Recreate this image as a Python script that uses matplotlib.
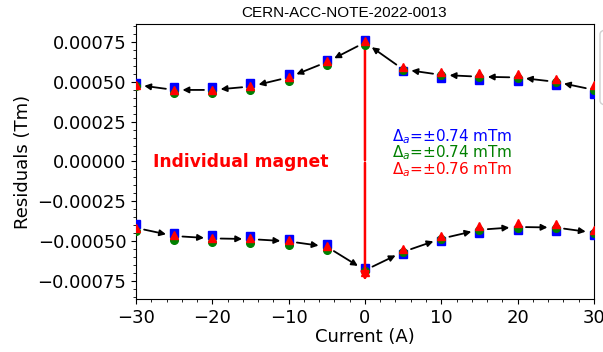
import matplotlib
matplotlib.use("Agg")
import matplotlib.pyplot as plt
from matplotlib.patches import FancyBboxPatch
from matplotlib.ticker import AutoMinorLocator, FuncFormatter
import numpy as np

# токи (A)
current = [-30, -25, -20, -15, -10, -5, 0, 5, 10, 15, 20, 25, 30]

# верхняя ветвь (рампа вниз), Tm
up_blue = [0.000490, 0.000463, 0.000467, 0.000488, 0.000546, 0.000637, 0.000757,
           0.000565, 0.000525, 0.000508, 0.000502, 0.000477, 0.000421]
up_green = [0.000470, 0.000430, 0.000426, 0.000446, 0.000504, 0.000602, 0.000726,
            0.000572, 0.000540, 0.000529, 0.000525, 0.000498, 0.000446]
up_red = [0.000480, 0.000450, 0.000450, 0.000473, 0.000529, 0.000627, 0.000751,
          0.000591, 0.000560, 0.000554, 0.000550, 0.000519, 0.000477]

# нижняя ветвь (рампа вверх), Tm
lo_blue = [-0.000394, -0.000446, -0.000462, -0.000467, -0.000483, -0.000514, -0.000664,
           -0.000580, -0.000498, -0.000446, -0.000431, -0.000436, -0.000462]
lo_green = [-0.000436, -0.000490, -0.000504, -0.000508, -0.000523, -0.000556, -0.000684,
            -0.000566, -0.000483, -0.000431, -0.000415, -0.000415, -0.000446]
lo_red = [-0.000415, -0.000462, -0.000477, -0.000481, -0.000493, -0.000529, -0.000693,
          -0.000549, -0.000467, -0.000404, -0.000383, -0.000388, -0.000429]

labels = ["$\\Delta_a$=±0.74 mTm", "$\\Delta_a$=±0.74 mTm", "$\\Delta_a$=±0.76 mTm"]

fig = plt.figure(figsize=(6.03, 3.52), dpi=100)
ax = fig.add_axes([0.2255, 0.1506, 0.7595, 0.7812])

x = np.array(current)
styles = [("blue", "s", up_blue, lo_blue),
          ("green", "o", up_green, lo_green),
          ("red", "^", up_red, lo_red)]
for col, mk, up, lo in styles:
    ax.plot(x, up, ls="", marker=mk, color=col, ms=5.5, zorder=4)
    ax.plot(x, lo, ls="", marker=mk, color=col, ms=5.5, zorder=4)

# средние значения - для стрелок
up_mean = (np.array(up_blue) + np.array(up_green) + np.array(up_red)) / 3
lo_mean = (np.array(lo_blue) + np.array(lo_green) + np.array(lo_red)) / 3

arr = dict(arrowstyle="-|>", color="k", lw=1.3, mutation_scale=9, shrinkA=6, shrinkB=6)
# верхняя ветвь: от +30 к -30
for i in range(len(x) - 1, 0, -1):
    ax.annotate("", xy=(x[i - 1], up_mean[i - 1]), xytext=(x[i], up_mean[i]),
                arrowprops=arr, zorder=3)
# нижняя ветвь: от -30 к +30
for i in range(len(x) - 1):
    ax.annotate("", xy=(x[i + 1], lo_mean[i + 1]), xytext=(x[i], lo_mean[i]),
                arrowprops=arr, zorder=3)

# красная стрелка в нуле
top0 = up_mean[6] - 0.00002
ax.annotate("", xy=(0, 0.000008), xytext=(0, top0),
            arrowprops=dict(arrowstyle="-", color="red", lw=1.8, shrinkA=0, shrinkB=0), zorder=2)
ax.annotate("", xy=(0, -0.000745), xytext=(0, -0.000008),
            arrowprops=dict(arrowstyle="-|>", color="red", lw=1.8, mutation_scale=12,
                            shrinkA=0, shrinkB=0), zorder=5)

ax.text(-27.8, -0.000005, "Individual magnet", color="red", fontsize=12.3,
        fontweight="bold", va="center", ha="left")
for (col, _, _, _), lab, yy in zip(styles, labels, [0.000156, 0.000054, -0.000048]):
    ax.text(3.6, yy, lab, color=col, fontsize=11, va="center", ha="left")

ax.set_xlim(-30, 30)
ax.set_ylim(-0.00086, 0.00086)
ax.set_xticks([-30, -20, -10, 0, 10, 20, 30])
ax.set_yticks([-0.00075, -0.0005, -0.00025, 0, 0.00025, 0.0005, 0.00075])
ax.yaxis.set_major_formatter(FuncFormatter(lambda v, p: ("%.5f" % v).replace("-", "\u2212")
                                           if abs(v) > 1e-12 else "0.00000"))
ax.xaxis.set_minor_locator(AutoMinorLocator(5))
ax.yaxis.set_minor_locator(AutoMinorLocator(5))
ax.tick_params(labelsize=13)
ax.set_xlabel("Current (A)", fontsize=13, labelpad=1)
ax.set_ylabel("Residuals (Tm)", fontsize=13, labelpad=4)

# рамка легенды за правым краем (обрезана, как в оригинале)
box = FancyBboxPatch((600 / 603, 1 - 105 / 352), 0.05, 75 / 352,
                     boxstyle="round,pad=0,rounding_size=0.012", transform=fig.transFigure,
                     facecolor="white", edgecolor="#d0d0d0", lw=1)
fig.patches.append(box)

fig.text(344 / 603, 1 - 13 / 352, "CERN-ACC-NOTE-2022-0013", fontsize=11,
         family="Liberation Sans", ha="center", va="center")

fig.savefig("out.png", dpi=100)
